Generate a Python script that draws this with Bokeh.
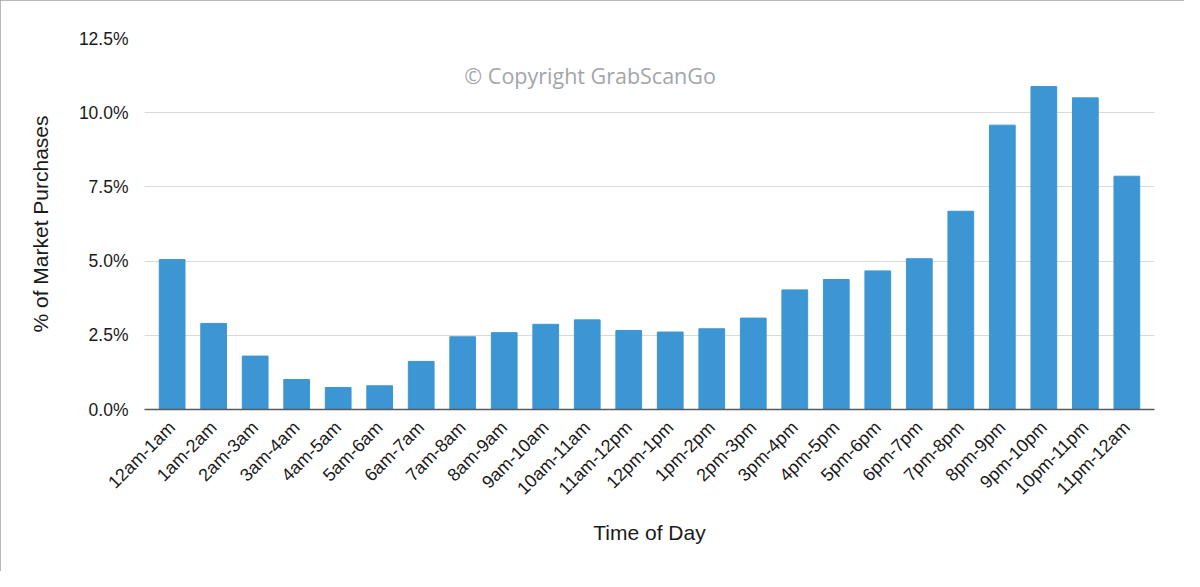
from math import pi

from bokeh.embed import file_html
from bokeh.models import ColumnDataSource, FactorRange, FixedTicker, Label, PrintfTickFormatter, Range1d
from bokeh.plotting import figure
from bokeh.resources import INLINE

# share of market purchases (%) per hour of day
hours = ["12am-1am", "1am-2am", "2am-3am", "3am-4am", "4am-5am", "5am-6am",
         "6am-7am", "7am-8am", "8am-9am", "9am-10am", "10am-11am", "11am-12pm",
         "12pm-1pm", "1pm-2pm", "2pm-3pm", "3pm-4pm", "4pm-5pm", "5pm-6pm",
         "6pm-7pm", "7pm-8pm", "8pm-9pm", "9pm-10pm", "10pm-11pm", "11pm-12am"]
share = [5.05, 2.90, 1.80, 1.01, 0.74, 0.80, 1.62, 2.45, 2.59, 2.87, 3.02, 2.66,
         2.61, 2.72, 3.08, 4.03, 4.38, 4.67, 5.08, 6.68, 9.58, 10.88, 10.50, 7.86]
y_ticks = [0, 2.5, 5.0, 7.5, 10.0, 12.5]

FONT = "Liberation Sans"

source = ColumnDataSource(data=dict(hour=hours, share=share))

p = figure(
    x_range=FactorRange(factors=hours, range_padding=0.166, range_padding_units="absolute"),
    y_range=Range1d(0, 12.5),
    width=1184, height=571,
    output_backend="svg", toolbar_location=None,
    min_border_left=144, min_border_right=30, min_border_top=38, min_border_bottom=162,
)
p.styles = {"outline": "2px solid #a0a0a0", "outline-offset": "-2px"}
p.outline_line_color = None

p.vbar(x="hour", top="share", width=0.62, source=source, color="#3c96d3")

# watermark
p.add_layout(Label(x=7.54, y=11.25, text="© Copyright GrabScanGo",
                   text_font="Open Sans", text_font_size="21.5px", text_color="#a2a6a9",
                   text_align="left", text_baseline="middle"))

p.xgrid.grid_line_color = None
p.ygrid.grid_line_color = "#dadada"
p.ygrid.grid_line_width = 1

p.yaxis.ticker = FixedTicker(ticks=y_ticks)
p.yaxis.formatter = PrintfTickFormatter(format="%.1f%%")
p.yaxis.axis_line_color = None
p.yaxis.major_tick_line_color = None
p.yaxis.minor_tick_line_color = None
p.yaxis.major_label_standoff = 10
p.yaxis.axis_label = "% of Market Purchases"
p.yaxis.axis_label_standoff = 24

p.xaxis.axis_line_color = "#5a5a5a"
p.xaxis.axis_line_width = 1.5
p.xaxis.major_tick_line_color = None
p.xaxis.major_label_orientation = pi / 4
p.xaxis.major_label_standoff = 9
p.xaxis.axis_label = "Time of Day"
p.xaxis.axis_label_standoff = 12

for ax in (p.xaxis, p.yaxis):
    ax.major_label_text_font = FONT
    ax.major_label_text_color = "#1a1a1a"
    ax.axis_label_text_font = FONT
    ax.axis_label_text_font_size = "21px"
    ax.axis_label_text_font_style = "normal"
    ax.axis_label_text_color = "#1a1a1a"
p.xaxis.major_label_text_font_size = "18px"
p.yaxis.major_label_text_font_size = "17.5px"

open("out.html", "w").write(file_html(p, INLINE))
